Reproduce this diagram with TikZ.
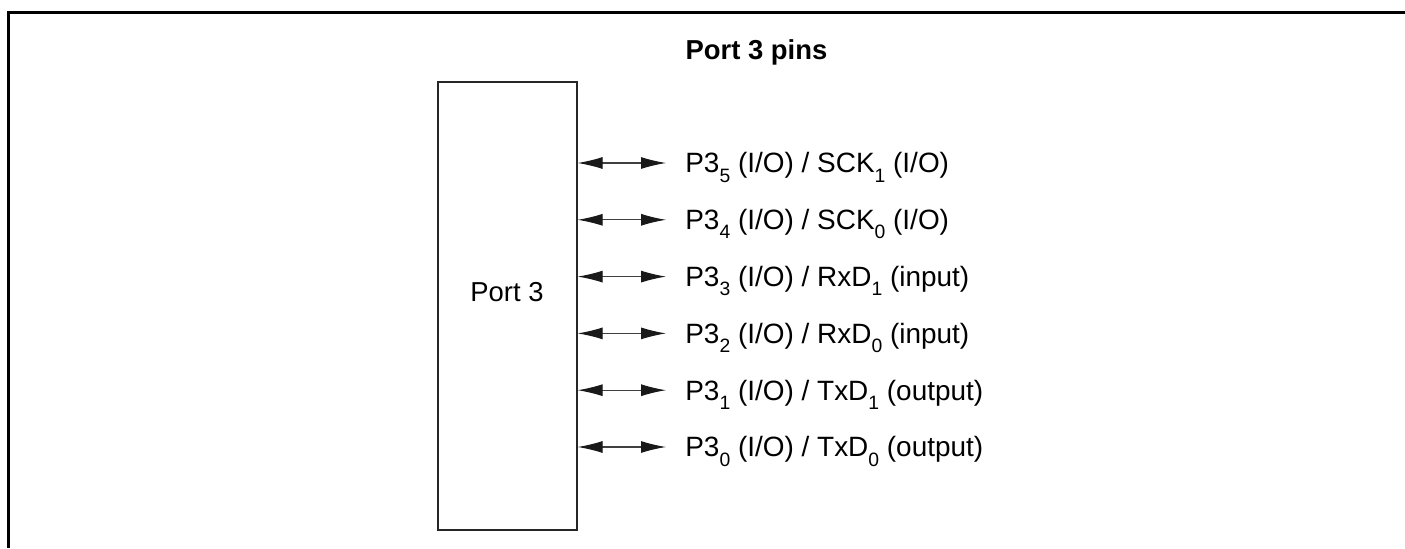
\documentclass[tikz,border=0pt]{standalone}
\usepackage{fontspec}
\setmainfont{Liberation Sans}
\usetikzlibrary{arrows.meta}

\newcommand{\pinsub}[1]{\raisebox{-0.33em}{\fontsize{11pt}{12pt}\selectfont #1}}

\tikzset{
    pinlabel/.style={anchor=west, inner sep=0pt, text height=0.46cm, text depth=0.066cm, font=\fontsize{15.9pt}{18pt}\selectfont},
    pinarrow/.style={<->, line width=0.6pt, draw=black!75},
}

\begin{document}
\begin{tikzpicture}[>={Latex[length=0.5cm,width=0.24cm,color=black!90]}, every node/.style={font=\fontsize{15.6pt}{18pt}\selectfont}]
    \useasboundingbox (0,0) rectangle (28.1,10.96);
    \draw[line width=0.06cm] (0.17,0) -- (0.17,10.71) -- (28.1,10.71);

    \node[anchor=base, font=\fontsize{15.6pt}{18pt}\selectfont\bfseries] (title) at (15.13,9.76) {Port 3 pins};

    \node[draw=black!85, line width=0.75pt, minimum width=2.78cm, minimum height=8.96cm, inner sep=0pt] (port) at (10.15,4.84) {};
    \node (portname) at (10.14,5.12) {Port 3};

    \node[pinlabel] (pin5) at (13.70,7.70) {P3\pinsub{5} (I/O) / SCK\pinsub{1} (I/O)};
    \node[pinlabel] (pin4) at (13.70,6.564) {P3\pinsub{4} (I/O) / SCK\pinsub{0} (I/O)};
    \node[pinlabel] (pin3) at (13.70,5.428) {P3\pinsub{3} (I/O) / RxD\pinsub{1} (input)};
    \node[pinlabel] (pin2) at (13.70,4.292) {P3\pinsub{2} (I/O) / RxD\pinsub{0} (input)};
    \node[pinlabel] (pin1) at (13.70,3.156) {P3\pinsub{1} (I/O) / TxD\pinsub{1} (output)};
    \node[pinlabel] (pin0) at (13.70,2.02) {P3\pinsub{0} (I/O) / TxD\pinsub{0} (output)};

    \draw[pinarrow] (port.east |- pin5.west) -- ([xshift=-0.38cm]pin5.west);
    \draw[pinarrow] (port.east |- pin4.west) -- ([xshift=-0.38cm]pin4.west);
    \draw[pinarrow] (port.east |- pin3.west) -- ([xshift=-0.38cm]pin3.west);
    \draw[pinarrow] (port.east |- pin2.west) -- ([xshift=-0.38cm]pin2.west);
    \draw[pinarrow] (port.east |- pin1.west) -- ([xshift=-0.38cm]pin1.west);
    \draw[pinarrow] (port.east |- pin0.west) -- ([xshift=-0.38cm]pin0.west);
\end{tikzpicture}
\end{document}
